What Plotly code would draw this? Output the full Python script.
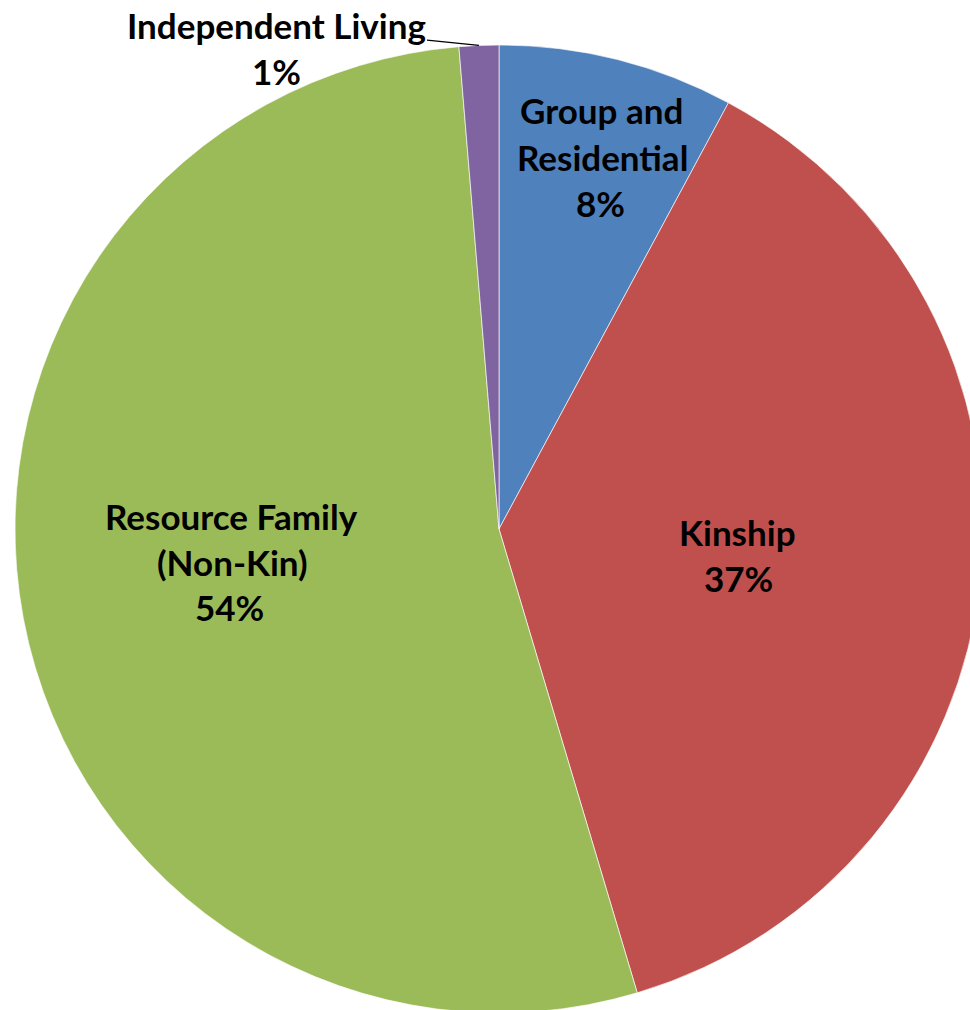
import math
import plotly.graph_objects as go

# ---- data ----
categories = ["Group and Residential", "Kinship", "Resource Family (Non-Kin)", "Independent Living"]
values = [7.86, 37.53, 53.29, 1.32]
pct_labels = ["8%", "37%", "54%", "1%"]
label_lines = [["Group and", "Residential"], ["Kinship"], ["Resource Family", "(Non-Kin)"], ["Independent Living"]]
colors = ["#4F81BD", "#C0504D", "#9BBB59", "#8064A2"]

# ---- layout geometry (pixels) ----
W, H = 983, 1013
ML, MT = 15, 45
SIDE = 968
FONT = dict(family="Lato", size=35, color="black", weight="bold")

def px2paper(px, py):
    return (px - ML) / SIDE, 1 - (py - MT) / SIDE

fig = go.Figure(go.Pie(
    labels=categories,
    values=values,
    sort=False,
    direction="clockwise",
    rotation=0,
    marker=dict(colors=colors, line=dict(color="rgba(255,255,255,0.8)", width=0.8)),
    textinfo="none",
    hoverinfo="label+percent",
    showlegend=False,
))

# label line centres (pixel positions in the page) for each category
line_centres = [
    [(601, 110), (602, 157), (600, 203)],
    [(737, 532), (738, 578)],
    [(231, 516), (232, 562), (229, 607)],
    [(276, 25), (276, 71)],
]

annotations = []
total = sum(values)
for i, (lines, pct) in enumerate(zip(label_lines, pct_labels)):
    texts = lines + [pct]
    for j, (t, (px, py)) in enumerate(zip(texts, line_centres[i])):
        x, y = px2paper(px, py)
        if i == 3 and j == 0:
            # leader line to the rim midpoint of the slice, derived from the data
            frac = (sum(values[:i]) + values[i] / 2) / total
            th = 2 * math.pi * frac
            tx, ty = 0.5 + 0.5 * math.sin(th), 0.5 + 0.5 * math.cos(th)
            tpx = ML + tx * SIDE
            tpy = MT + (1 - ty) * SIDE
            annotations.append(dict(
                x=tx, y=ty, xref="paper", yref="paper",
                text=t, showarrow=True, arrowhead=0, arrowwidth=1.3,
                arrowcolor="black", standoff=0, startstandoff=0,
                ax=px - tpx, ay=py - tpy,
                font=FONT, xanchor="center", yanchor="middle",
            ))
        else:
            annotations.append(dict(
                x=x, y=y, xref="paper", yref="paper", text=t,
                showarrow=False, font=FONT, xanchor="center", yanchor="middle",
            ))

fig.update_layout(
    width=W, height=H,
    margin=dict(l=ML, r=W - ML - SIDE, t=MT, b=H - MT - SIDE, pad=0),
    paper_bgcolor="white", plot_bgcolor="white",
    annotations=annotations,
)

fig.write_html(
    "out.html",
    config={"displayModeBar": False},
    post_script="document.body.style.margin='0';document.body.style.overflow='hidden';document.documentElement.style.overflow='hidden';",
)
